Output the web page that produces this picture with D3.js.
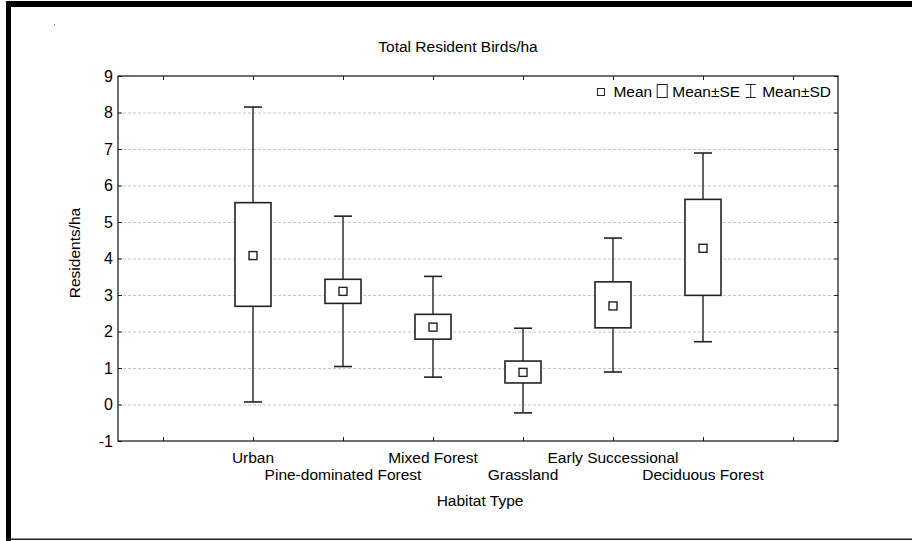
<!DOCTYPE html>
<html><head><meta charset="utf-8">
<script src="https://cdn.jsdelivr.net/npm/d3@7/dist/d3.min.js"></script>
<style>
html,body{margin:0;padding:0;background:#fff;}
svg{display:block;}
text{font-family:"Liberation Sans",Arial,sans-serif;font-size:15.5px;fill:#000;}
</style></head>
<body>
<svg id="chart" width="912" height="541"></svg>
<script>
const categories = ["Urban","Pine-dominated Forest","Mixed Forest","Grassland","Early Successional","Deciduous Forest"];
const means  = [4.08, 3.10, 2.12, 0.88, 2.70, 4.28];
const seLow  = [2.69, 2.77, 1.79, 0.59, 2.10, 2.99];
const seHigh = [5.53, 3.43, 2.47, 1.19, 3.36, 5.62];
const sdLow  = [0.07, 1.04, 0.75, -0.23, 0.89, 1.72];
const sdHigh = [8.15, 5.16, 3.51, 2.09, 4.56, 6.89];
const yTicks = [-1,0,1,2,3,4,5,6,7,8,9];
const gridValues = [0,1,2,3,4,5,6,7,8];
const xTickIdx = [0,1,2,3,4,5,6,7];
const title = "Total Resident Birds/ha";
const xTitle = "Habitat Type";
const yTitle = "Residents/ha";
const legendLabels = ["Mean","Mean±SE","Mean±SD"];

const svg = d3.select("#chart");
const L = 118, R = 838, T = 76, B = 441;
const x = d3.scaleLinear().domain([-0.5, 7.5]).range([L, R]);
const y = d3.scaleLinear().domain([-1, 9]).range([B, T]);
const data = categories.map((c,i)=>({c, i:i+1, m:means[i], seL:seLow[i], seH:seHigh[i], sdL:sdLow[i], sdH:sdHigh[i]}));

// outer frame
svg.append("rect").attr("x",6).attr("y",1).attr("width",906).attr("height",6).attr("fill","#000");
svg.append("rect").attr("x",6).attr("y",1).attr("width",5).attr("height",540).attr("fill","#000");
svg.append("rect").attr("x",6).attr("y",538.5).attr("width",906).attr("height",1.5).attr("fill","#222");

// title
svg.append("text").attr("x",458).attr("y",52).attr("text-anchor","middle").text(title);

// grid
svg.append("g").selectAll("line").data(gridValues).join("line")
  .attr("x1",L).attr("x2",R).attr("y1",d=>y(d)+0.5).attr("y2",d=>y(d)+0.5)
  .attr("stroke","#c4c4c4").attr("stroke-width",1).attr("stroke-dasharray","3,2");

// axes (ticks inward)
const axL = svg.append("g").attr("transform",`translate(${L},0)`).call(d3.axisRight(y).tickValues(yTicks).tickSize(4).tickFormat(""));
const axR = svg.append("g").attr("transform",`translate(${R},0)`).call(d3.axisLeft(y).tickValues(yTicks).tickSize(4).tickFormat(""));
const axB = svg.append("g").attr("transform",`translate(0,${B})`).call(d3.axisTop(x).tickValues(xTickIdx).tickSize(4).tickFormat(""));
const axT = svg.append("g").attr("transform",`translate(0,${T})`).call(d3.axisBottom(x).tickValues(xTickIdx).tickSize(4).tickFormat(""));
[axL,axR,axB,axT].forEach(a=>{a.select(".domain").remove(); a.selectAll("line").attr("stroke","#222");});

// y tick labels
svg.append("g").selectAll("text").data(yTicks).join("text")
  .attr("x",113).attr("y",d=>y(d)).attr("dy","0.36em").attr("text-anchor","end").style("font-size","16px").text(d=>d);

// category labels (staggered)
svg.append("g").selectAll("text").data(data).join("text")
  .attr("x",d=>x(d.i)).attr("y",(d,k)=>k%2===0?463:480).attr("text-anchor","middle").text(d=>d.c);

svg.append("text").attr("x",480).attr("y",506).attr("text-anchor","middle").text(xTitle);
svg.append("text").attr("transform","translate(80,253) rotate(-90)").attr("text-anchor","middle").text(yTitle);

// boxes
const boxW = 36, capW = 18, mk = 8;
const g = svg.append("g").attr("stroke","#222").attr("fill","none");
const bx = g.selectAll("g").data(data).join("g");
bx.append("line").attr("x1",d=>x(d.i)).attr("x2",d=>x(d.i)).attr("y1",d=>y(d.sdH)).attr("y2",d=>y(d.seH)).attr("stroke-width",1.4);
bx.append("line").attr("x1",d=>x(d.i)).attr("x2",d=>x(d.i)).attr("y1",d=>y(d.seL)).attr("y2",d=>y(d.sdL)).attr("stroke-width",1.4);
bx.append("line").attr("x1",d=>x(d.i)-capW/2).attr("x2",d=>x(d.i)+capW/2).attr("y1",d=>y(d.sdH)).attr("y2",d=>y(d.sdH)).attr("stroke-width",1.6);
bx.append("line").attr("x1",d=>x(d.i)-capW/2).attr("x2",d=>x(d.i)+capW/2).attr("y1",d=>y(d.sdL)).attr("y2",d=>y(d.sdL)).attr("stroke-width",1.6);
bx.append("rect").attr("x",d=>x(d.i)-boxW/2).attr("width",boxW).attr("y",d=>y(d.seH)).attr("height",d=>y(d.seL)-y(d.seH))
  .attr("fill","#fff").attr("stroke-width",1.6);
bx.append("rect").attr("x",d=>x(d.i)-mk/2).attr("width",mk).attr("y",d=>y(d.m)-mk/2).attr("height",mk)
  .attr("fill","#fff").attr("stroke-width",1.4);

// plot frame
svg.append("rect").attr("x",L).attr("y",T).attr("width",R-L).attr("height",B-T).attr("fill","none").attr("stroke","#111").attr("stroke-width",1.2);

// legend (right aligned)
const lg = svg.append("g");
let cursor = 831;
const ly = 96.5;
const items = [
  {label:legendLabels[2], icon:"sd", w:13, gap:5, before:4},
  {label:legendLabels[1], icon:"se", w:10, gap:5, before:5},
  {label:legendLabels[0], icon:"m", w:7, gap:9, before:0}
];
items.forEach((it)=>{
  const t = lg.append("text").attr("y",ly).attr("text-anchor","end").attr("x",cursor).text(it.label);
  const tw = t.node().getComputedTextLength();
  const iconRight = cursor - tw - it.gap;
  const cx = iconRight - it.w/2;
  if(it.icon==="sd"){
    lg.append("line").attr("x1",cx-5).attr("x2",cx+5).attr("y1",84.5).attr("y2",84.5).attr("stroke","#222");
    lg.append("line").attr("x1",cx-5).attr("x2",cx+5).attr("y1",97.5).attr("y2",97.5).attr("stroke","#222");
    lg.append("line").attr("x1",cx).attr("x2",cx).attr("y1",84.5).attr("y2",97.5).attr("stroke","#222");
  } else if(it.icon==="se"){
    lg.append("rect").attr("x",cx-5).attr("y",84.5).attr("width",10).attr("height",13).attr("fill","#fff").attr("stroke","#222");
  } else {
    lg.append("rect").attr("x",cx-3.5).attr("y",88.5).attr("width",7).attr("height",7).attr("fill","#fff").attr("stroke","#222");
  }
  cursor = iconRight - it.w - it.before;
});
// tiny mark near top-left
svg.append("rect").attr("x",54).attr("y",24).attr("width",1).attr("height",1).attr("fill","#666");
</script>
</body></html>
